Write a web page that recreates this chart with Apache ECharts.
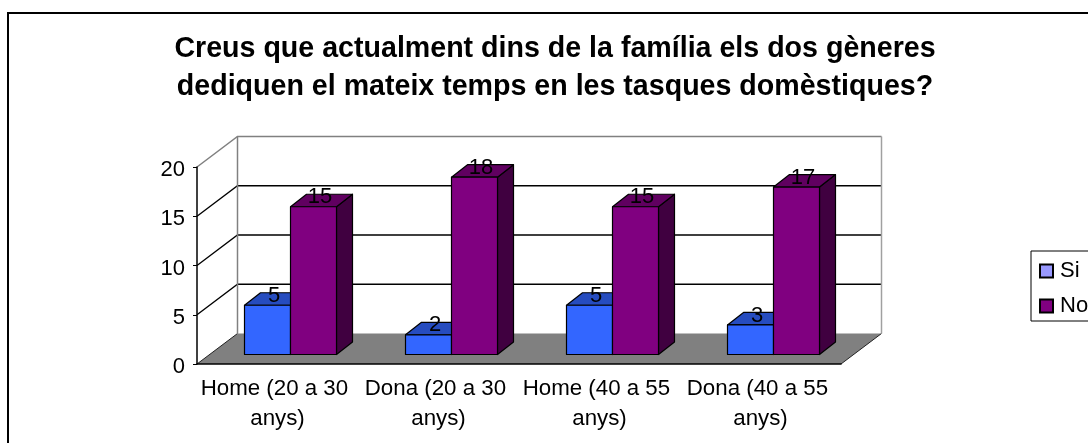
<!DOCTYPE html>
<html><head><meta charset="utf-8">
<style>html,body{margin:0;padding:0;background:#fff;overflow:hidden}#c{width:1088px;height:443px}</style>
<script src="https://cdn.jsdelivr.net/npm/echarts@6/dist/echarts.min.js"></script>
</head><body><div id="c"></div>
<script>
const titleText = "Creus que actualment dins de la família els dos gèneres\ndediquen el mateix temps en les tasques domèstiques?";
const categories = ["Home (20 a 30 anys)", "Dona (20 a 30 anys)", "Home (40 a 55 anys)", "Dona (40 a 55 anys)"];
const siValues = [5, 2, 5, 3];
const noValues = [15, 18, 15, 17];
const yTicks = [0, 5, 10, 15, 20];

const FONT = '"Liberation Sans", Arial, sans-serif';
const DEPTH_X = 40.5, DEPTH_Y = 30.5;   // wall/floor projection
const INSET_X = 13, INSET_Y = 9.5;      // bar position in depth
const BAR_DX = 16, BAR_DY = 12.5;       // bar depth

function wallItem(params, api) {
  const s = params.coordSys;
  const L = s.x, R = s.x + s.width, B = s.y + s.height;
  const kids = [];
  const T = api.coord([0, yTicks[yTicks.length - 1]])[1];
  kids.push({type:'polygon', shape:{points:[[L,B],[R,B],[R+DEPTH_X,B-DEPTH_Y],[L+DEPTH_X,B-DEPTH_Y]]},
    style:{fill:'#808080'}});
  kids.push({type:'line', shape:{x1:L,y1:B,x2:L+DEPTH_X,y2:B-DEPTH_Y}, style:{stroke:'#222', lineWidth:1}});
  kids.push({type:'line', shape:{x1:R,y1:B,x2:R+DEPTH_X,y2:B-DEPTH_Y}, style:{stroke:'#222', lineWidth:1}});
  yTicks.forEach(function (t) {
    if (t === 0) return;
    const y = api.coord([0, t])[1];
    const top = t === yTicks[yTicks.length - 1];
    const col = top ? '#808080' : '#000';
    kids.push({type:'polyline', shape:{points:[[L,y],[L+DEPTH_X,y-DEPTH_Y],[R+DEPTH_X,y-DEPTH_Y]]},
      style:{fill:'none', stroke:col, lineWidth: top ? 1.5 : 1.3}});
  });
  kids.push({type:'line', shape:{x1:L+DEPTH_X,y1:T-DEPTH_Y,x2:L+DEPTH_X,y2:B-DEPTH_Y}, style:{stroke:'#808080', lineWidth:1.5}});
  kids.push({type:'line', shape:{x1:R+DEPTH_X,y1:T-DEPTH_Y,x2:R+DEPTH_X,y2:B-DEPTH_Y}, style:{stroke:'#a0a0a0', lineWidth:1.5}});
  return {type:'group', children:kids};
}

function barRenderer(side, front, top, right) {
  return function (params, api) {
    const idx = api.value(0), val = api.value(1);
    const w = api.size([1, 0])[0] / 3.5;
    const p0 = api.coord([idx, 0]), p1 = api.coord([idx, val]);
    const cx = p0[0] + INSET_X;
    const x0 = side === 0 ? cx - w : cx, x1 = x0 + w;
    const yb = p0[1] - INSET_Y, yt = p1[1] - INSET_Y;
    const st = function (f) { return {fill:f, stroke:'#000', lineWidth:1.2, lineJoin:'round'}; };
    return {type:'group', children:[
      {type:'polygon', shape:{points:[[x1,yt],[x1+BAR_DX,yt-BAR_DY],[x1+BAR_DX,yb-BAR_DY],[x1,yb]]}, style:st(right)},
      {type:'polygon', shape:{points:[[x0,yt],[x0+BAR_DX,yt-BAR_DY],[x1+BAR_DX,yt-BAR_DY],[x1,yt]]}, style:st(top)},
      {type:'polygon', shape:{points:[[x0,yt],[x1,yt],[x1,yb],[x0,yb]]}, style:st(front)},
      {type:'text', z2:50, style:{x:(x0+x1)/2+BAR_DX/2-1.5, y:yt-BAR_DY+3, text:String(val), fill:'#000',
        font:'22px '+FONT, align:'center', verticalAlign:'middle'}}
    ]};
  };
}

const chart = echarts.init(document.getElementById('c'), null, {renderer:'canvas'});
chart.setOption({
  animation:false,
  backgroundColor:'#fff',
  graphic:[{type:'rect', z:-1, silent:true, shape:{x:8,y:13,width:1300,height:700}, style:{fill:'none',stroke:'#000',lineWidth:2}}],
  title:{text:titleText, left:550, top:25, textAlign:'center',
    textStyle:{fontFamily:FONT, fontSize:28.6, fontWeight:'bold', color:'#000', lineHeight:38}},
  legend:{orient:'vertical', left:1031, top:251, data:['Si','No'], icon:'rect',
    itemWidth:13, itemHeight:13, itemGap:13, borderColor:'#000', borderWidth:1,
    padding:[9,14,4,8], textStyle:{fontFamily:FONT, fontSize:22, color:'#000', padding:[0,0,0,2]}},
  grid:{left:197, top:167, width:644, height:197, containLabel:false},
  xAxis:{type:'category', data:categories, z:10,
    axisLine:{lineStyle:{color:'#000',width:1.5}}, axisTick:{alignWithLabel:false,length:4,lineStyle:{color:'#000'}},
    axisLabel:{interval:0, width:158, overflow:'break', fontFamily:FONT, fontSize:22.3, color:'#000', lineHeight:30, margin:10, align:'center'}},
  yAxis:{type:'value', min:0, max:20, interval:5, z:10,
    axisLine:{show:true,lineStyle:{color:'#000',width:1.5}}, axisTick:{show:true,length:4,lineStyle:{color:'#000'}},
    splitLine:{show:false},
    axisLabel:{fontFamily:FONT, fontSize:22, color:'#000', margin:12, verticalAlign:'top', lineHeight:6}},
  series:[
    {type:'custom', name:'walls', z:1, silent:true, data:[[0,0]], renderItem:wallItem, clip:false},
    {type:'custom', name:'Si', z:2, clip:false, itemStyle:{color:'#9999FF',borderColor:'#000',borderWidth:1},
      data:siValues.map(function(v,i){return [i,v];}), encode:{x:0,y:1},
      renderItem:barRenderer(0,'#3366FF','#264CBF','#1A3380')},
    {type:'custom', name:'No', z:3, clip:false, itemStyle:{color:'#800080',borderColor:'#000',borderWidth:1},
      data:noValues.map(function(v,i){return [i,v];}), encode:{x:0,y:1},
      renderItem:barRenderer(1,'#800080','#600060','#400040')}
  ]
});
</script></body></html>
